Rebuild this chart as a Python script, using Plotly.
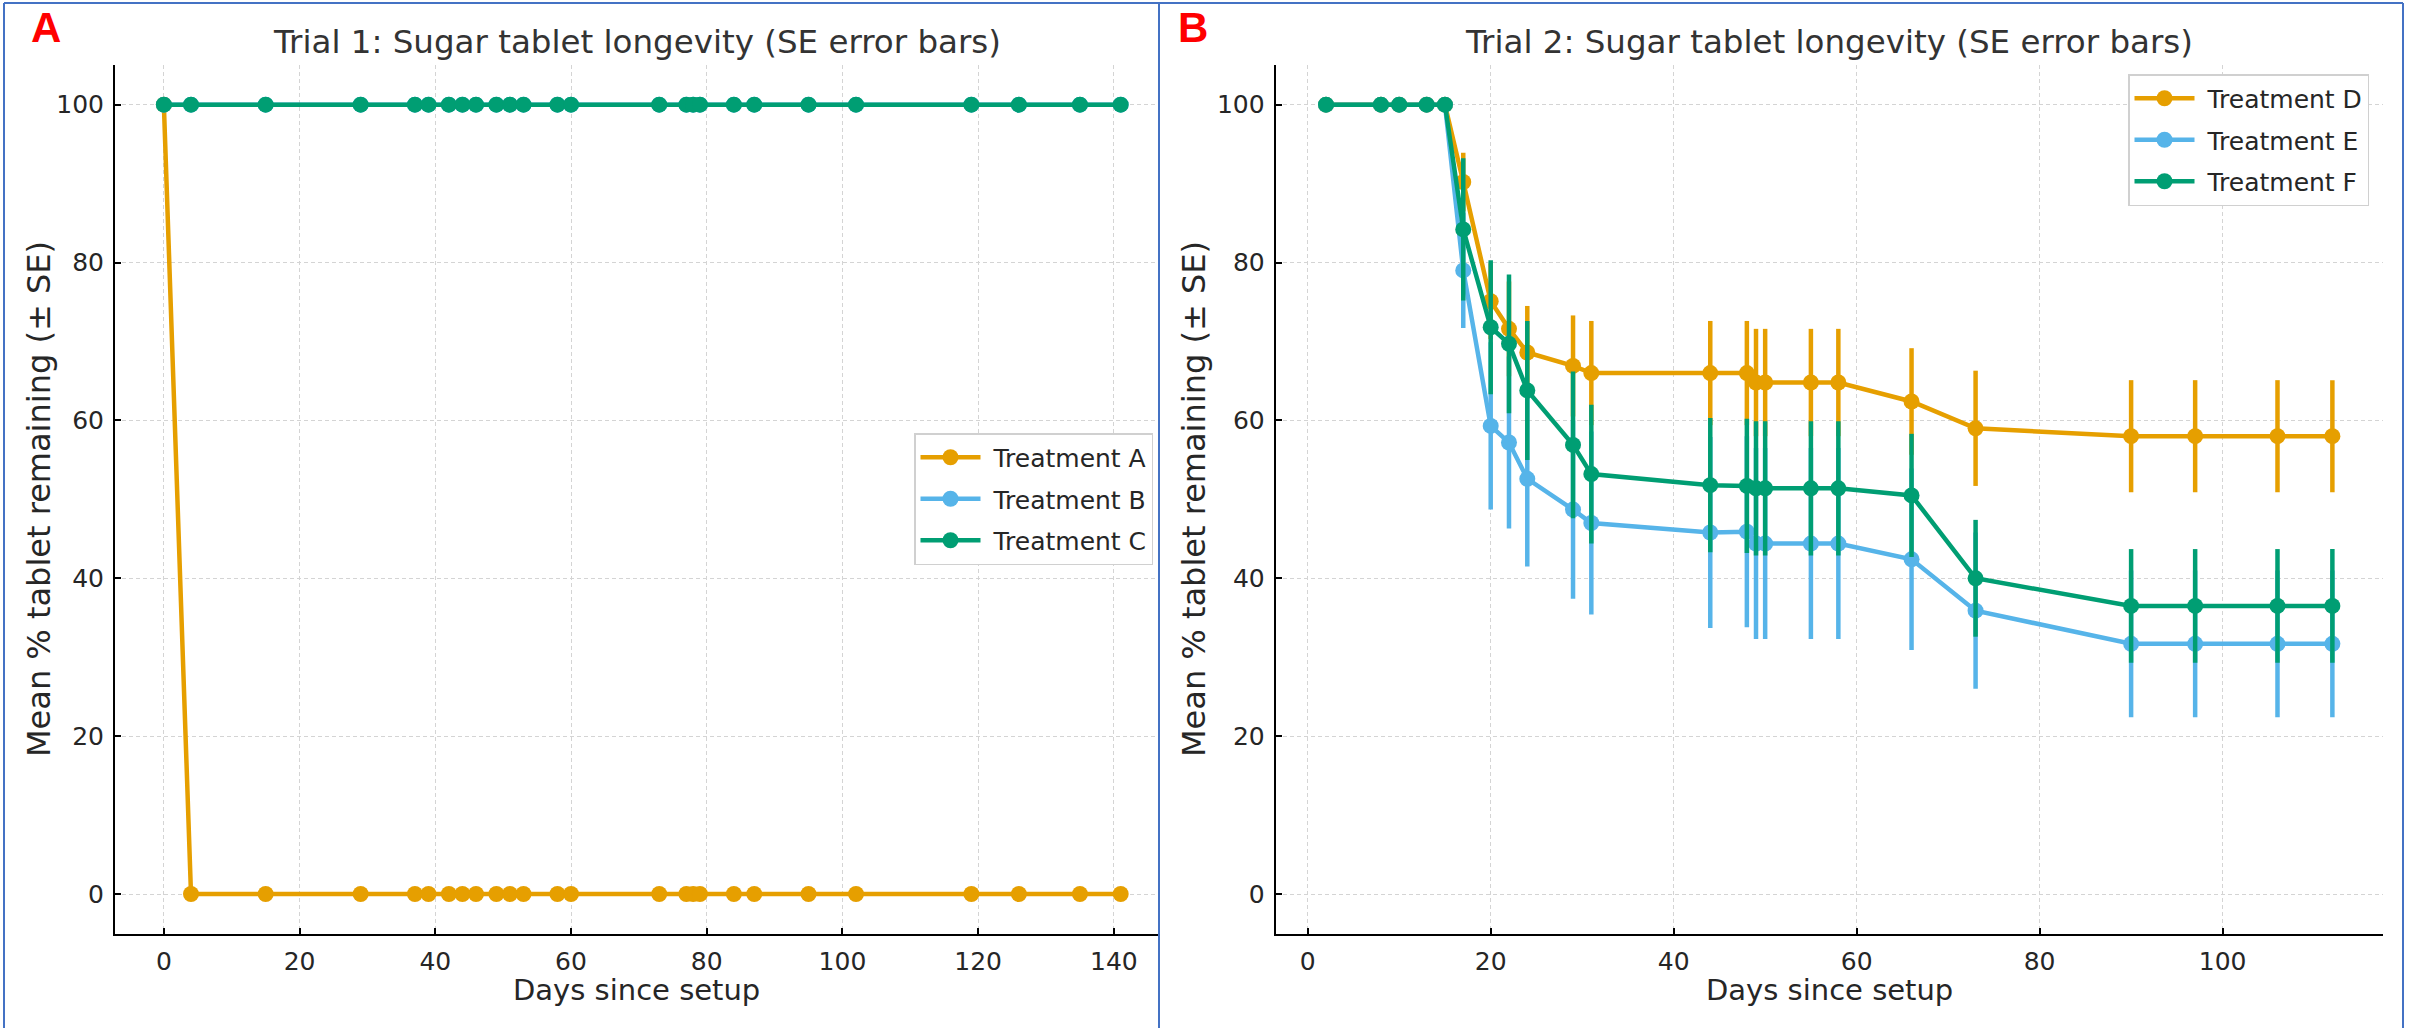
import plotly.graph_objects as go

# ---------------- data ----------------
days_t1 = [0, 4, 15, 29, 37, 39, 42, 44, 46, 49, 51, 53, 58, 60, 73, 77, 78, 79,
           84, 87, 95, 102, 119, 126, 135, 141]
treat_a = [100] + [0] * 25
treat_b = [100] * 26
treat_c = [100] * 26
se_t1 = [0] * 26

days_t2 = [2, 8, 10, 13, 15, 17, 20, 22, 24, 29, 31, 44, 48, 49, 50, 55, 58, 66,
           73, 90, 97, 106, 112]
treat_d = [100, 100, 100, 100, 100, 90.2, 75.1, 71.6, 68.6, 66.9, 66.0, 66.0, 66.0,
           64.8, 64.8, 64.8, 64.8, 62.4, 59.0, 58.0, 58.0, 58.0, 58.0]
se_d = [0, 0, 0, 0, 0, 3.7, 4.8, 6.0, 5.9, 6.4, 6.6, 6.6, 6.6, 6.8, 6.8, 6.8, 6.8,
        6.75, 7.3, 7.1, 7.1, 7.1, 7.1]
treat_e = [100, 100, 100, 100, 100, 79.0, 59.3, 57.2, 52.6, 48.7, 47.0, 45.8, 45.9,
           44.4, 44.4, 44.4, 44.4, 42.4, 35.9, 31.7, 31.7, 31.7, 31.7]
se_e = [0, 0, 0, 0, 0, 7.3, 10.6, 10.9, 11.1, 11.3, 11.6, 12.1, 12.1, 12.1, 12.1,
        12.1, 12.1, 11.5, 9.9, 9.3, 9.3, 9.3, 9.3]
treat_f = [100, 100, 100, 100, 100, 84.2, 71.8, 69.7, 63.8, 56.9, 53.2, 51.8, 51.7,
           51.4, 51.4, 51.4, 51.4, 50.5, 40.0, 36.5, 36.5, 36.5, 36.5]
se_f = [0, 0, 0, 0, 0, 9.0, 8.5, 8.8, 8.8, 9.3, 8.8, 8.5, 8.5, 8.5, 8.5, 8.5, 8.5,
        7.8, 7.4, 7.2, 7.2, 7.2, 7.2]

xticks_t1 = [0, 20, 40, 60, 80, 100, 120, 140]
xticks_t2 = [0, 20, 40, 60, 80, 100]
yticks = [0, 20, 40, 60, 80, 100]

titles = ["Trial 1: Sugar tablet longevity (SE error bars)",
          "Trial 2: Sugar tablet longevity (SE error bars)"]
xlabel = "Days since setup"
ylabel = "Mean % tablet remaining (± SE)"

# ---------------- styling ----------------
W, H = 2418, 1028
ORANGE, BLUE, GREEN = "#E69F00", "#56B4E9", "#009E73"
FONT = "DejaVu Sans"
TXT = "#262626"
NB = "\u00a0"


def px(x):
    return x / W


def py(y):
    return 1 - y / H


fig = go.Figure()


def add(x, y, se, name, color, xa, ya, legend):
    fig.add_trace(go.Scatter(
        x=x, y=y, name=NB + name, mode="lines+markers",
        line=dict(color=color, width=4.5),
        marker=dict(color=color, size=16),
        error_y=dict(type="data", array=se, visible=True, color=color,
                     thickness=4.5, width=0),
        xaxis=xa, yaxis=ya, legend=legend, legendgroup=name,
    ))


add(days_t1, treat_a, se_t1, "Treatment A", ORANGE, "x", "y", "legend")
add(days_t1, treat_b, se_t1, "Treatment B", BLUE, "x", "y", "legend")
add(days_t1, treat_c, se_t1, "Treatment C", GREEN, "x", "y", "legend")
add(days_t2, treat_d, se_d, "Treatment D", ORANGE, "x2", "y2", "legend2")
add(days_t2, treat_e, se_e, "Treatment E", BLUE, "x2", "y2", "legend2")
add(days_t2, treat_f, se_f, "Treatment F", GREEN, "x2", "y2", "legend2")

axis_common = dict(
    showline=True, linecolor="black", linewidth=2, mirror=False,
    ticks="inside", ticklen=6, tickwidth=1.5, tickcolor="black",
    showgrid=True, gridcolor="#d4d4d4", gridwidth=1, griddash="4px,3px",
    zeroline=False, tickfont=dict(family=FONT, size=25, color=TXT),
    ticklabelstandoff=4,
)

ydom = [py(933.5), py(65.2)]
legend_common = dict(xanchor="right", yanchor="top",
                     bgcolor="white", bordercolor="#d0d0d0", borderwidth=1.5,
                     font=dict(family=FONT, size=25, color=TXT),
                     itemwidth=60, tracegroupgap=6)
fig.update_layout(
    width=W, height=H,
    margin=dict(l=0, r=0, t=0, b=0),
    paper_bgcolor="white", plot_bgcolor="white",
    font=dict(family=FONT, color=TXT),
    xaxis=dict(domain=[px(115), px(1158)], range=[-7.2, 146.5],
               tickvals=xticks_t1, anchor="y", **axis_common),
    yaxis=dict(domain=ydom, range=[-5, 105], tickvals=yticks, anchor="x",
               **axis_common),
    xaxis2=dict(domain=[px(1275.7), px(2382.7)], range=[-3.5, 117.5],
                tickvals=xticks_t2, anchor="y2", **axis_common),
    yaxis2=dict(domain=ydom, range=[-5, 105], tickvals=yticks, anchor="x2",
                **axis_common),
    legend=dict(x=px(1153), y=py(433), **legend_common),
    legend2=dict(x=px(2369), y=py(74), **legend_common),
    showlegend=True,
)

ann = []
for cx, t in zip([636.5, 1829], titles):
    ann.append(dict(x=px(cx), y=py(42), xref="paper", yref="paper", text=t,
                    showarrow=False, xanchor="center", yanchor="middle",
                    font=dict(family=FONT, size=32.5, color="#333333")))
for cx in [636.5, 1829]:
    ann.append(dict(x=px(cx), y=py(990), xref="paper", yref="paper", text=xlabel,
                    showarrow=False, xanchor="center", yanchor="middle",
                    font=dict(family=FONT, size=29, color=TXT)))
for cx in [39, 1194]:
    ann.append(dict(x=px(cx), y=py(499), xref="paper", yref="paper", text=ylabel,
                    showarrow=False, xanchor="center", yanchor="middle",
                    textangle=-90,
                    font=dict(family=FONT, size=32, color=TXT)))
for cx, lab in [(46, "A"), (1193, "B")]:
    ann.append(dict(x=px(cx), y=py(27), xref="paper", yref="paper",
                    text="<b>%s</b>" % lab, showarrow=False,
                    xanchor="center", yanchor="middle",
                    font=dict(family="Liberation Sans, Arial", size=42,
                              color="#FF0000")))
fig.update_layout(annotations=ann)

# panel borders
BORDER = "#4472C4"
shapes = []
for x in [4, 1159, 2403]:
    shapes.append(dict(type="line", xref="paper", yref="paper",
                       x0=px(x), x1=px(x), y0=-0.05, y1=py(3),
                       line=dict(color=BORDER, width=2)))
shapes.append(dict(type="line", xref="paper", yref="paper",
                   x0=px(4), x1=px(2403), y0=py(3), y1=py(3),
                   line=dict(color=BORDER, width=2)))
fig.update_layout(shapes=shapes)

fig.write_html("out.html",
               config={"displayModeBar": False},
               post_script="document.body.style.margin='0';"
                           "document.body.style.overflow='hidden';")
